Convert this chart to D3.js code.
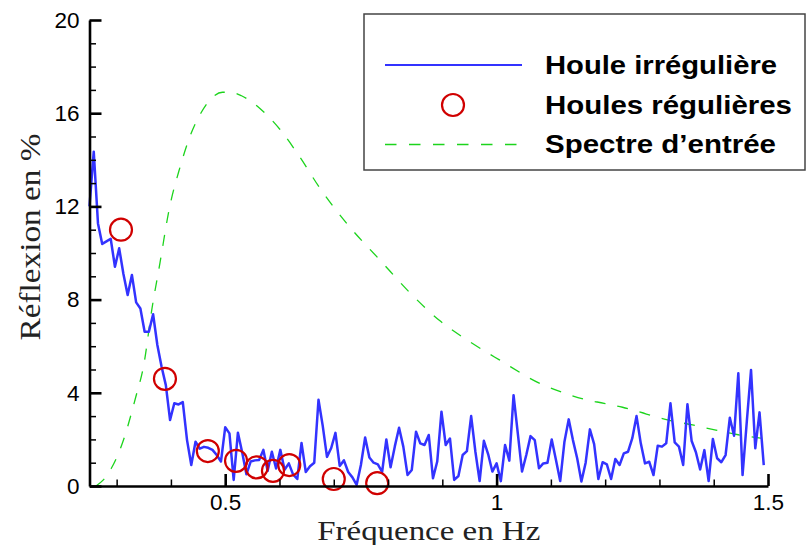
<!DOCTYPE html>
<html><head><meta charset="utf-8">
<script src="https://cdn.jsdelivr.net/npm/d3@7"></script>
<style>body{margin:0;background:#fff}svg{display:block}</style>
</head><body><svg id="c" width="810" height="545"></svg>
<script>
// ---- data ----
const irregStartHz = 0.25;
const irregStepHz = 0.0078125;
const irregular = [
 12.0,14.35,11.27,10.39,10.5,10.61,9.41,10.2,9.1,8.2,
 9.06,7.88,7.62,6.62,6.62,7.37,6.05,5.12,4.33,2.83,
 3.55,3.5,3.6,1.97,0.9,1.9,1.6,1.68,1.64,1.55,
 1.33,1.05,2.52,2.26,0.26,2.29,1.45,0.5,1.05,1.1,
 1.12,1.55,0.65,1.47,0.75,1.55,0.7,0.97,0.5,0.3,
 1.85,0.6,0.85,1.0,3.7,2.58,1.25,1.63,2.28,0.86,
 1.1,0.6,0.37,0.05,0.9,2.08,1.22,1.0,0.93,0.6,
 2.0,0.8,1.7,2.5,1.69,0.47,0.69,2.33,1.83,1.76,
 2.19,0.33,1.05,3.19,1.76,2.04,0.26,0.43,1.33,1.5,
 3.0,1.47,0.21,1.94,1.37,0.62,0.97,0.21,1.76,1.09,
 3.9,2.26,0.62,1.33,2.14,1.97,0.76,0.97,1.0,2.0,
 1.12,0.21,1.9,2.86,1.97,1.19,0.19,1.0,2.43,1.8,
 0.3,1.02,0.93,0.3,1.16,0.9,1.4,1.47,2.05,3.0,
 1.83,0.97,1.04,0.47,1.73,1.69,1.83,3.55,1.87,1.69,
 0.9,3.51,1.93,1.45,0.71,1.54,0.21,2.02,1.19,1.02,
 1.33,2.93,2.16,4.84,0.47,2.76,4.98,1.62,3.16,0.9
];
const regularFreq = [0.308,0.389,0.468,0.52,0.558,0.588,0.618,0.70,0.78];
const regularRefl = [11.0,4.6,1.5,1.08,0.8,0.65,0.9,0.3,0.12];
const spectrumFreq = [0.262,0.275,0.29,0.31,0.335,0.35,0.365,0.38,0.397,0.417,0.435,0.455,0.475,0.495,0.51,0.53,0.564,0.601,0.638,0.674,0.73,0.785,0.84,0.895,0.95,1.006,1.08,1.12,1.165,1.198,1.232,1.276,1.317,1.361,1.404,1.445,1.487];
const spectrumVal  = [0.0,0.25,0.75,1.8,3.8,5.2,7.6,9.6,11.9,13.7,15.0,16.0,16.65,16.9,16.9,16.75,16.2,15.3,14.1,12.8,11.1,9.7,8.3,7.1,6.2,5.4,4.4,4.03,3.7,3.55,3.38,3.09,2.83,2.62,2.4,2.2,2.05];
const xMajorTicks = [0.5,1,1.5];
const xMinorTicks = [0.3,0.4,0.6,0.7,0.8,0.9,1.1,1.2,1.3,1.4];
const yMajorTicks = [0,4,8,12,16,20];
const yMinorTicks = [1,2,3,5,6,7,9,10,11,13,14,15,17,18,19];
const legendLabels = ["Houle irrégulière","Houles régulières","Spectre d\u2019entrée"];
const xTitle = "Fréquence en Hz";
const yTitle = "Réflexion en %";

// ---- drawing ----
const svg = d3.select("#c");
const x = d3.scaleLinear().domain([0.25,1.5]).range([89.5,768]);
const y = d3.scaleLinear().domain([0,20]).range([486,20]);
const BLUE = "#3333ff", RED = "#d00000", GREEN = "#1cd41c";
const tickFont = "Liberation Sans, Arial, sans-serif";

// spectrum
svg.append("path")
  .datum(spectrumFreq.map((f,i)=>[f,spectrumVal[i]]))
  .attr("fill","none").attr("stroke",GREEN).attr("stroke-width",1.3)
  .attr("stroke-dasharray","11,12")
  .attr("d", d3.line().x(d=>x(d[0])).y(d=>y(d[1])).curve(d3.curveMonotoneX));

// irregular line
svg.append("path")
  .datum(irregular.map((v,i)=>[irregStartHz + i*irregStepHz, v]))
  .attr("fill","none").attr("stroke",BLUE).attr("stroke-width",2.5)
  .attr("stroke-linejoin","round")
  .attr("d", d3.line().x(d=>x(d[0])).y(d=>y(d[1])));

// regular circles
svg.append("g").selectAll("circle").data(regularFreq).join("circle")
  .attr("cx",(f)=>x(f)).attr("cy",(f,i)=>y(regularRefl[i])).attr("r",11)
  .attr("fill","none").attr("stroke",RED).attr("stroke-width",2.2);

// axes
function styleAxis(g, w){
  g.select(".domain").attr("stroke","#000").attr("stroke-width",w);
  g.selectAll(".tick line").attr("stroke","#000");
  g.selectAll("text").attr("fill","#000").style("font-family",tickFont).style("font-size","22.5px");
}
const yMinor = svg.append("g").attr("transform",`translate(${x(0.25)},0)`)
  .call(d3.axisLeft(y).tickValues(yMinorTicks).tickSize(-6.5).tickSizeOuter(0).tickFormat(""));
yMinor.select(".domain").remove();
yMinor.selectAll(".tick line").attr("stroke","#000").attr("stroke-width",1.5);
const xMinor = svg.append("g").attr("transform",`translate(0,${y(0)})`)
  .call(d3.axisBottom(x).tickValues(xMinorTicks).tickSize(-6.5).tickSizeOuter(0).tickFormat(""));
xMinor.select(".domain").remove();
xMinor.selectAll(".tick line").attr("stroke","#000").attr("stroke-width",1.5);

const yAx = svg.append("g").attr("transform",`translate(${x(0.25)},0)`)
  .call(d3.axisLeft(y).tickValues(yMajorTicks).tickSize(-12).tickSizeOuter(0).tickPadding(10));
styleAxis(yAx, 2.6);
yAx.selectAll(".tick line").attr("stroke-width",2.6);
const xAx = svg.append("g").attr("transform",`translate(0,${y(0)})`)
  .call(d3.axisBottom(x).tickValues(xMajorTicks).tickSize(-12).tickSizeOuter(0).tickPadding(8).tickFormat(d3.format("")));
styleAxis(xAx, 2.6);
xAx.selectAll(".tick line").attr("stroke-width",2.6);

// axis titles
svg.append("text").text(xTitle)
  .attr("x",(x(0.25)+x(1.5))/2).attr("y",540).attr("text-anchor","middle")
  .attr("textLength",223).attr("lengthAdjust","spacingAndGlyphs")
  .style("font-family","Liberation Serif, Times New Roman, serif").style("font-size","28px").attr("fill","#222");
svg.append("text").text(yTitle)
  .attr("transform","translate(40,237) rotate(-90)").attr("text-anchor","middle")
  .attr("textLength",207).attr("lengthAdjust","spacingAndGlyphs")
  .style("font-family","Liberation Serif, Times New Roman, serif").style("font-size","30px").attr("fill","#222");

// legend
const lg = svg.append("g");
lg.append("rect").attr("x",364).attr("y",14).attr("width",441).attr("height",156)
  .attr("fill","#fff").attr("stroke","#444").attr("stroke-width",1.5);
const rowY = [65,105,144.5];
const legendTextLen = [232,247,231];
lg.append("line").attr("x1",385).attr("x2",522).attr("y1",rowY[0]).attr("y2",rowY[0])
  .attr("stroke",BLUE).attr("stroke-width",2.2);
lg.append("circle").attr("cx",453).attr("cy",rowY[1]).attr("r",11)
  .attr("fill","none").attr("stroke",RED).attr("stroke-width",2.2);
lg.append("line").attr("x1",385).attr("x2",518).attr("y1",rowY[2]).attr("y2",rowY[2])
  .attr("stroke",GREEN).attr("stroke-width",1.3).attr("stroke-dasharray","11.5,12.5");
lg.selectAll("text.lab").data(legendLabels).join("text").attr("class","lab")
  .attr("x",545).attr("y",(d,i)=>rowY[i]+8.5).text(d=>d)
  .attr("textLength",(d,i)=>legendTextLen[i]).attr("lengthAdjust","spacingAndGlyphs")
  .style("font-family",tickFont).style("font-weight","bold").style("font-size","25px").attr("fill","#000");
</script></body></html>
